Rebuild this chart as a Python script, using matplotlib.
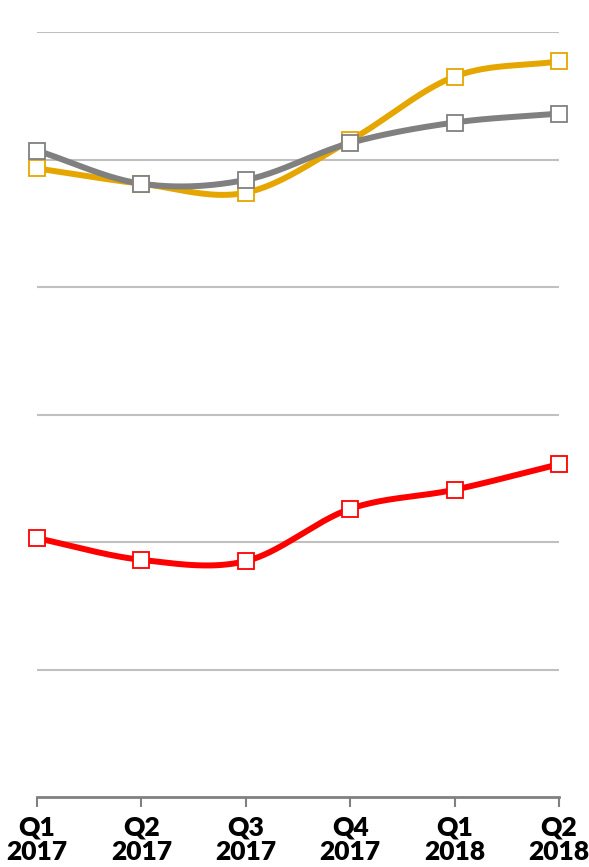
import numpy as np
import matplotlib
matplotlib.use("Agg")
import matplotlib.pyplot as plt

# DADOS
# ──────────────────────────────────────────────────────────────
quarters = ["Q1\n2017", "Q2\n2017", "Q3\n2017", "Q4\n2017", "Q1\n2018", "Q2\n2018"]
gray_vals = [5.07, 4.81, 4.84, 5.13, 5.29, 5.36]
orange_vals = [4.93, 4.81, 4.74, 5.15, 5.65, 5.77]
red_vals = [2.03, 1.86, 1.85, 2.26, 2.41, 2.61]
grid_levels = [1, 2, 3, 4, 5, 6]

COR_CINZA = "#808080"
COR_LARANJA = "#E6A600"
COR_VERMELHO = "#FF0000"


def suavizar(xs, ys, n=40):
    # curva tipo Catmull-Rom (linha suavizada estilo Excel)
    xs = np.asarray(xs, float)
    ys = np.asarray(ys, float)
    px = np.concatenate([[2 * xs[0] - xs[1]], xs, [2 * xs[-1] - xs[-2]]])
    py = np.concatenate([[2 * ys[0] - ys[1]], ys, [2 * ys[-1] - ys[-2]]])
    out_x, out_y = [], []
    t = np.linspace(0, 1, n)
    for i in range(1, len(px) - 2):
        x0, x1, x2, x3 = px[i - 1:i + 3]
        y0, y1, y2, y3 = py[i - 1:i + 3]
        c1x, c1y = x1 + (x2 - x0) / 6, y1 + (y2 - y0) / 6
        c2x, c2y = x2 - (x3 - x1) / 6, y2 - (y3 - y1) / 6
        bx = (1 - t) ** 3 * x1 + 3 * (1 - t) ** 2 * t * c1x + 3 * (1 - t) * t ** 2 * c2x + t ** 3 * x2
        by = (1 - t) ** 3 * y1 + 3 * (1 - t) ** 2 * t * c1y + 3 * (1 - t) * t ** 2 * c2y + t ** 3 * y2
        out_x.extend(bx)
        out_y.extend(by)
    return np.array(out_x), np.array(out_y)


fig = plt.figure(figsize=(5.89, 8.67), dpi=100)
ax = fig.add_axes([37 / 589, 70 / 867, (559 - 37) / 589, (797 - 32) / 867])

x = np.arange(len(quarters))

for lv in grid_levels:
    ax.axhline(lv, color="#C0C0C0", lw=1.5, zorder=1)

for vals, cor in [(orange_vals, COR_LARANJA), (gray_vals, COR_CINZA), (red_vals, COR_VERMELHO)]:
    sx, sy = suavizar(x, vals)
    ax.plot(sx, sy, color=cor, lw=4.3, solid_capstyle="round", zorder=3)

for vals, cor in [(orange_vals, COR_LARANJA), (gray_vals, COR_CINZA), (red_vals, COR_VERMELHO)]:
    ax.plot(x, vals, linestyle="none", marker="s", markersize=11,
            markerfacecolor="white", markeredgecolor=cor, markeredgewidth=1.3,
            zorder=4, clip_on=False)

ax.set_xlim(0, 5)
ax.set_ylim(0, 6)
ax.set_yticks([])
ax.set_xticks(x)
ax.set_xticklabels(quarters, fontsize=19, fontweight="heavy", family="Lato",
                   linespacing=1.05)
ax.tick_params(axis="x", length=7, width=1.5, color=COR_CINZA, pad=6)

for lado in ["top", "right", "left"]:
    ax.spines[lado].set_visible(False)
ax.spines["bottom"].set_color(COR_CINZA)
ax.spines["bottom"].set_linewidth(2)

plt.savefig("out.png", dpi=100)
plt.close()
